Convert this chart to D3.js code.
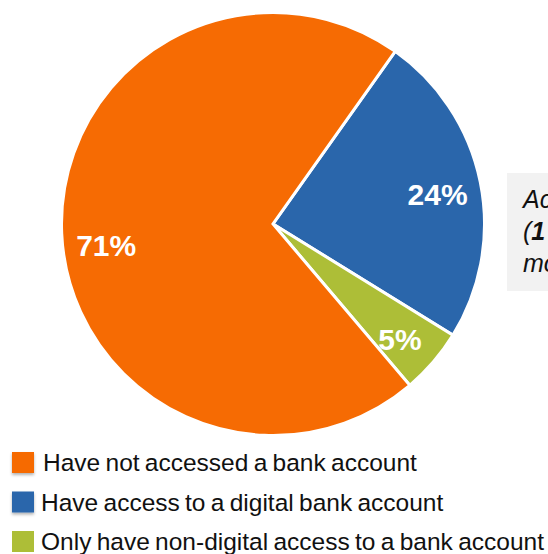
<!DOCTYPE html>
<html>
<head>
<meta charset="utf-8">
<script src="https://cdn.jsdelivr.net/npm/d3@7"></script>
<style>
  html, body { margin: 0; padding: 0; background: #fff; overflow: hidden; }
  svg { display: block; font-family: "Liberation Sans", Arial, sans-serif; }
</style>
</head>
<body>
<svg id="chart" width="548" height="554"></svg>
<script>
// Bank account access shares
const categories = [
  "Have access to a digital bank account",
  "Only have non-digital access to a bank account",
  "Have not accessed a bank account"
];
const shares = [24, 5, 71];
const sliceColors = ["#2A66AB", "#ADBE37", "#F66B03"];

// Legend order (top to bottom)
const legendOrder = [2, 0, 1];

// Side note lines (partially outside the frame)
const noteLines = [
  [{ t: "Accessed a bank account", b: false }],
  [{ t: "(", b: false }, { t: "1", b: true }, { t: " in 4 via a digital", b: false }],
  [{ t: "mobile or online service)", b: false }]
];

const svg = d3.select("#chart");
const cx = 273, cy = 224, R = 211.5;
const startAngle = 35.3 * Math.PI / 180;

// side note box
const note = svg.append("g");
note.append("rect")
  .attr("x", 507).attr("y", 173).attr("width", 120).attr("height", 118)
  .attr("fill", "#F2F2F2");
noteLines.forEach((parts, i) => {
  const t = note.append("text")
    .attr("x", 523).attr("y", 208 + i * 32)
    .attr("font-size", 25).attr("font-style", "italic").attr("fill", "#111");
  parts.forEach(p => t.append("tspan").attr("font-weight", p.b ? "bold" : "normal").text(p.t));
});

// pie
const pie = d3.pie().sort(null).value(d => d)
  .startAngle(startAngle).endAngle(startAngle + 2 * Math.PI);
const arcs = pie(shares);
const arc = d3.arc().innerRadius(0).outerRadius(R);
const labelArc = d3.arc().innerRadius(170).outerRadius(170);

const g = svg.append("g").attr("transform", `translate(${cx},${cy})`);
g.selectAll("path.slice").data(arcs).join("path")
  .attr("class", "slice")
  .attr("d", arc)
  .attr("fill", (d, i) => sliceColors[i])
  .attr("stroke", "#fff").attr("stroke-width", 3).attr("stroke-linejoin", "miter");

// value labels; the large slice's label sits a little lower in its wedge
g.selectAll("text.lbl").data(arcs).join("text")
  .attr("class", "lbl")
  .attr("transform", d => {
    const [x, y] = labelArc.centroid(d);
    const big = d.data > 50;
    return `translate(${x + (big ? 3 : -2)},${y + (big ? 14 : 4)})`;
  })
  .attr("text-anchor", "middle").attr("dy", "0.36em")
  .attr("font-size", 30).attr("font-weight", "bold").attr("fill", "#fff")
  .text(d => d.data + "%");

// legend
const defs = svg.append("defs");
const f = defs.append("filter").attr("id", "sw").attr("x", "-30%").attr("y", "-30%").attr("width", "160%").attr("height", "170%");
f.append("feDropShadow").attr("dx", 0).attr("dy", 2).attr("stdDeviation", 1.5)
  .attr("flood-color", "#000").attr("flood-opacity", 0.3);

const legend = svg.append("g");
legendOrder.forEach((idx, row) => {
  const y = 452 + row * 39.5;
  legend.append("rect")
    .attr("x", 12).attr("y", y).attr("width", 22).attr("height", 21)
    .attr("fill", sliceColors[idx])
    .attr("filter", row < 2 ? "url(#sw)" : null);
  legend.append("text")
    .attr("x", row === 0 ? 43 : 41).attr("y", y + 19)
    .attr("font-size", 24.5).attr("fill", "#111")
    .attr("word-spacing", -1.5)
    .text(categories[idx]);
});
</script>
</body>
</html>
